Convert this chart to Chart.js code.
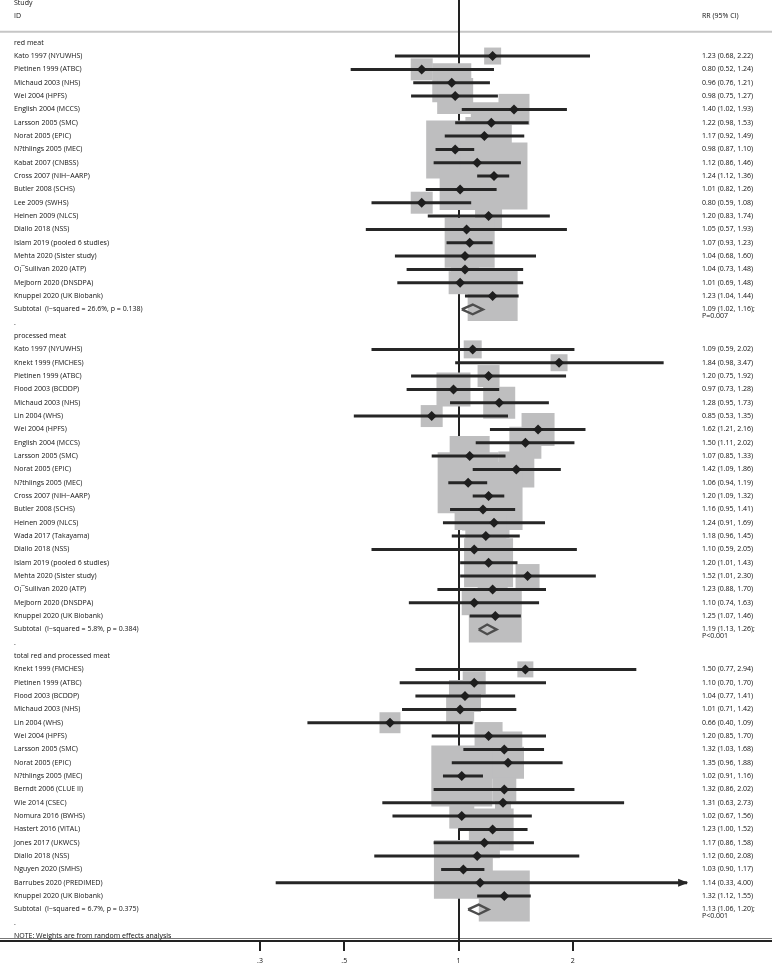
<!DOCTYPE html>
<html>
<head>
<meta charset="utf-8">
<script src="https://cdn.jsdelivr.net/npm/chart.js@4.4.1/dist/chart.umd.min.js"></script>
<style>
  html, body { margin: 0; padding: 0; background: #fff; overflow: hidden; }
  #wrap { position: relative; width: 772px; height: 963px; overflow: hidden; }
  #forest { position: absolute; left: 0; top: 0; }
</style>
</head>
<body>
<div id="wrap"><canvas id="forest" width="772" height="980"></canvas></div>
<script>
// --- data ---
const groupNames = ['red meat', 'processed meat', 'total red and processed meat'];

const redStudies = ['Kato 1997 (NYUWHS)', 'Pietinen 1999 (ATBC)', 'Michaud 2003 (NHS)', 'Wei 2004 (HPFS)',
  'English 2004 (MCCS)', 'Larsson 2005 (SMC)', 'Norat 2005 (EPIC)', 'N?thlings 2005 (MEC)', 'Kabat 2007 (CNBSS)',
  'Cross 2007 (NIH\u2212AARP)', 'Butler 2008 (SCHS)', 'Lee 2009 (SWHS)', 'Heinen 2009 (NLCS)', 'Diallo 2018 (NSS)',
  'Islam 2019 (pooled 6 studies)', 'Mehta 2020 (Sister study)', 'O\u00a1\u00afSullivan 2020 (ATP)',
  'Mejborn 2020 (DNSDPA)', 'Knuppel 2020 (UK Biobank)'];
const redRR = [1.23, 0.80, 0.96, 0.98, 1.40, 1.22, 1.17, 0.98, 1.12, 1.24, 1.01, 0.80, 1.20, 1.05, 1.07, 1.04, 1.04, 1.01, 1.23];
const redLo = [0.68, 0.52, 0.76, 0.75, 1.02, 0.98, 0.92, 0.87, 0.86, 1.12, 0.82, 0.59, 0.83, 0.57, 0.93, 0.68, 0.73, 0.69, 1.04];
const redHi = [2.22, 1.24, 1.21, 1.27, 1.93, 1.53, 1.49, 1.10, 1.46, 1.36, 1.26, 1.08, 1.74, 1.93, 1.23, 1.60, 1.48, 1.48, 1.44];
const redWeight = [1.08, 1.81, 5.70, 4.85, 3.60, 6.30, 5.41, 12.6, 4.85, 16.8, 6.30, 1.81, 2.73, 0.96, 9.36, 1.81, 2.94, 1.98, 9.36];

const procStudies = ['Kato 1997 (NYUWHS)', 'Knekt 1999 (FMCHES)', 'Pietinen 1999 (ATBC)', 'Flood 2003 (BCDDP)',
  'Michaud 2003 (NHS)', 'Lin 2004 (WHS)', 'Wei 2004 (HPFS)', 'English 2004 (MCCS)', 'Larsson 2005 (SMC)',
  'Norat 2005 (EPIC)', 'N?thlings 2005 (MEC)', 'Cross 2007 (NIH\u2212AARP)', 'Butler 2008 (SCHS)', 'Heinen 2009 (NLCS)',
  'Wada 2017 (Takayama)', 'Diallo 2018 (NSS)', 'Islam 2019 (pooled 6 studies)', 'Mehta 2020 (Sister study)',
  'O\u00a1\u00afSullivan 2020 (ATP)', 'Mejborn 2020 (DNSDPA)', 'Knuppel 2020 (UK Biobank)'];
const procRR = [1.09, 1.84, 1.20, 0.97, 1.28, 0.85, 1.62, 1.50, 1.07, 1.42, 1.06, 1.20, 1.16, 1.24, 1.18, 1.10, 1.20, 1.52, 1.23, 1.10, 1.25];
const procLo = [0.59, 0.98, 0.75, 0.73, 0.95, 0.53, 1.21, 1.11, 0.85, 1.09, 0.94, 1.09, 0.95, 0.91, 0.96, 0.59, 1.01, 1.01, 0.88, 0.74, 1.07];
const procHi = [2.02, 3.47, 1.92, 1.28, 1.73, 1.35, 2.16, 2.02, 1.33, 1.86, 1.19, 1.32, 1.41, 1.69, 1.45, 2.05, 1.43, 2.30, 1.70, 1.63, 1.46];
const procWeight = [1.21, 1.08, 1.81, 4.33, 3.84, 1.81, 4.08, 3.84, 5.99, 4.85, 13.9, 17.3, 6.61, 3.60, 6.30, 1.08, 8.99, 2.16, 3.37, 2.34, 10.5];

const totStudies = ['Knekt 1999 (FMCHES)', 'Pietinen 1999 (ATBC)', 'Flood 2003 (BCDDP)', 'Michaud 2003 (NHS)',
  'Lin 2004 (WHS)', 'Wei 2004 (HPFS)', 'Larsson 2005 (SMC)', 'Norat 2005 (EPIC)', 'N?thlings 2005 (MEC)',
  'Berndt 2006 (CLUE II)', 'Wie 2014 (CSEC)', 'Nomura 2016 (BWHS)', 'Hastert 2016 (VITAL)', 'Jones 2017 (UKWCS)',
  'Diallo 2018 (NSS)', 'Nguyen 2020 (SMHS)', 'Barrubes 2020 (PREDIMED)', 'Knuppel 2020 (UK Biobank)'];
const totRR = [1.50, 1.10, 1.04, 1.01, 0.66, 1.20, 1.32, 1.35, 1.02, 1.32, 1.31, 1.02, 1.23, 1.17, 1.12, 1.03, 1.14, 1.32];
const totLo = [0.77, 0.70, 0.77, 0.71, 0.40, 0.85, 1.03, 0.96, 0.91, 0.86, 0.63, 0.67, 1.00, 0.86, 0.60, 0.90, 0.33, 1.12];
const totHi = [2.94, 1.70, 1.41, 1.42, 1.09, 1.70, 1.68, 1.88, 1.16, 2.02, 2.73, 1.56, 1.52, 1.58, 2.08, 1.17, 4.00, 1.55];
const totWeight = [0.96, 1.98, 3.84, 2.94, 1.65, 2.94, 4.85, 3.84, 13.9, 2.16, 0.96, 2.34, 6.61, 3.60, 1.21, 13.0, 0.30, 9.74];

const subtotalLabels = ['Subtotal  (I\u2212squared = 26.6%, p = 0.138)', 'Subtotal  (I\u2212squared = 5.8%, p = 0.384)',
  'Subtotal  (I\u2212squared = 6.7%, p = 0.375)'];
const subtotalRR = [1.09, 1.19, 1.13];
const subtotalLo = [1.02, 1.13, 1.06];
const subtotalHi = [1.16, 1.26, 1.20];
const subtotalP = ['P=0.007', 'P<0.001', 'P<0.001'];

const noteText = 'NOTE: Weights are from random effects analysis';
const tickValues = [0.3, 0.5, 1, 2];
const tickLabels = ['.3', '.5', '1', '2'];

// --- layout helpers ---
const BOX_K = 16.34;            // box side in px per sqrt(weight %)
const FONT = '"Open Sans", "Liberation Sans", sans-serif';
const INK = '#111';

const groups = [
  { studies: redStudies, rr: redRR, lo: redLo, hi: redHi, w: redWeight },
  { studies: procStudies, rr: procRR, lo: procLo, hi: procHi, w: procWeight },
  { studies: totStudies, rr: totRR, lo: totLo, hi: totHi, w: totWeight }
];
const fmt = (r, l, h) => `${r.toFixed(2)} (${l.toFixed(2)}, ${h.toFixed(2)})`;

const textRows = [];
const boxPts = [], boxRad = [], estPts = [], ciSets = [], subSets = [], arrows = [];
let row = 0;
groups.forEach((g, gi) => {
  textRows.push({ row: row++, left: groupNames[gi] });
  g.studies.forEach((s, i) => {
    textRows.push({ row, left: s, right: fmt(g.rr[i], g.lo[i], g.hi[i]) });
    boxPts.push({ x: g.rr[i], y: row });
    boxRad.push(BOX_K * Math.sqrt(g.w[i]) / Math.SQRT2);
    estPts.push({ x: g.rr[i], y: row });
    ciSets.push([{ x: g.lo[i], y: row }, { x: g.hi[i], y: row }]);
    if (g.hi[i] >= 4) arrows.push({ x: g.hi[i], y: row });
    row++;
  });
  textRows.push({ row, left: subtotalLabels[gi], right: fmt(subtotalRR[gi], subtotalLo[gi], subtotalHi[gi]) + ';', right2: subtotalP[gi] });
  const h = 0.36;
  subSets.push([
    { x: subtotalLo[gi], y: row }, { x: subtotalRR[gi], y: row - h }, { x: subtotalHi[gi], y: row },
    { x: subtotalRR[gi], y: row + h }, { x: subtotalLo[gi], y: row }
  ]);
  row++;
  textRows.push({ row: row++, left: '.' });
});
textRows.push({ row, left: noteText });

const datasets = [];
datasets.push({ data: boxPts, pointStyle: 'rect', pointRadius: boxRad, backgroundColor: '#bebebf', borderWidth: 0, order: 10 });
ciSets.forEach((d) => datasets.push({ data: d, showLine: true, borderColor: '#262626', borderWidth: 3, pointRadius: 0, order: 5 }));
subSets.forEach((d) => datasets.push({ data: d, showLine: true, borderColor: '#4d4d4d', borderWidth: 2.3, pointRadius: 0, fill: false, order: 4 }));
datasets.push({ data: estPts, pointStyle: 'rectRot', pointRadius: 5, backgroundColor: '#1e1e1e', borderWidth: 0, order: 1 });

const forestText = {
  id: 'forestText',
  beforeDraw(chart) {
    const { ctx, scales: { y }, chartArea } = chart;
    ctx.save();
    ctx.strokeStyle = '#c6c6c6';
    ctx.lineWidth = 2;
    const yr = y.getPixelForValue(-0.82);
    ctx.beginPath(); ctx.moveTo(0, yr); ctx.lineTo(chart.width, yr); ctx.stroke();
    ctx.strokeStyle = '#777';
    ctx.lineWidth = 1;
    ctx.beginPath(); ctx.moveTo(0, chartArea.bottom - 2.5); ctx.lineTo(chart.width, chartArea.bottom - 2.5); ctx.stroke();
    ctx.restore();
  },
  afterDatasetsDraw(chart) {
    const { ctx, scales: { x, y } } = chart;
    ctx.save();
    ctx.fillStyle = '#262626';
    arrows.forEach((a) => {
      const px = x.getPixelForValue(a.x), py = y.getPixelForValue(a.y);
      ctx.beginPath();
      ctx.moveTo(px + 1, py); ctx.lineTo(px - 9, py - 4); ctx.lineTo(px - 9, py + 4);
      ctx.closePath(); ctx.fill();
    });
    ctx.restore();
  },
  afterDraw(chart) {
    const { ctx, scales: { y } } = chart;
    ctx.save();
    ctx.fillStyle = INK;
    ctx.textBaseline = 'middle';
    ctx.textAlign = 'left';
    ctx.font = `7px ${FONT}`;
    ctx.fillText('Study', 14, y.getPixelForValue(-2.98));
    ctx.fillText('ID', 14, y.getPixelForValue(-2.04));
    ctx.fillText('RR (95% CI)', 702, y.getPixelForValue(-2.04));
    textRows.forEach((t) => {
      const py = y.getPixelForValue(t.row);
      ctx.fillText(t.left, 14, py);
      if (t.right) ctx.fillText(t.right, 702, py);
      if (t.right2) ctx.fillText(t.right2, 702, py + 7);
    });
    ctx.restore();
  }
};

new Chart(document.getElementById('forest'), {
  type: 'scatter',
  data: { datasets },
  options: {
    responsive: false,
    animation: false,
    events: [],
    devicePixelRatio: 1,
    layout: { padding: 0, autoPadding: false },
    plugins: { legend: { display: false }, tooltip: { enabled: false } },
    scales: {
      x: {
        type: 'logarithmic',
        min: 0.0620,
        max: 6.694,
        afterBuildTicks: (s) => { s.ticks = tickValues.map((v) => ({ value: v })); },
        afterFit: (s) => { s.height = 39; },
        grid: {
          color: (c) => (c.tick && c.tick.value === 1 ? '#222' : 'rgba(0,0,0,0)'),
          lineWidth: 2,
          drawTicks: true,
          tickLength: 10,
          tickColor: '#222',
          tickWidth: 2
        },
        border: { display: true, color: '#222', width: 2 },
        ticks: {
          autoSkip: false,
          maxRotation: 0,
          padding: 6,
          color: INK,
          font: { family: FONT, size: 7 },
          callback: (v, i) => tickLabels[i]
        }
      },
      y: {
        type: 'linear',
        reverse: true,
        display: false,
        min: -3.203,
        max: 67.37
      }
    }
  },
  plugins: [forestText]
});
</script>
</body>
</html>
